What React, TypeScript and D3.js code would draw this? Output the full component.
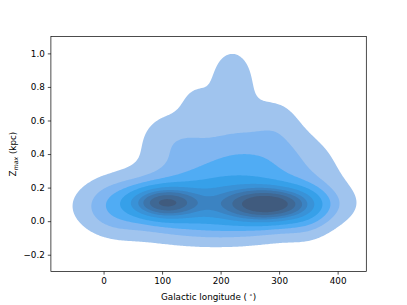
import * as d3 from "d3";
import { useEffect, useRef } from "react";

const W = 407;
const H = 305;
const margin = { top: 36.6, right: 40.7, bottom: 33.5, left: 50.9 };

const lonDomain: [number, number] = [-90, 449];
const zDomain: [number, number] = [-0.3, 1.1];
const xTicks = [0, 100, 200, 300, 400];
const yTicks = [-0.2, 0.0, 0.2, 0.4, 0.6, 0.8, 1.0];

// density blobs (peak, longitude, Zmax, spread lon, spread Zmax)
const blobPeak = [1.0, 1.25, 0.45, 0.2, 0.075, 0.06, 0.1, 0.09, 0.045, 0.08, 0.045];
const blobLon = [105, 282, 195, 240, 220, 115, 20, 345, 155, 180, 295];
const blobZ = [0.11, 0.1, 0.1, 0.33, 0.83, 0.5, 0.08, 0.07, 0.7, 0.08, 0.6];
const blobSLon = [35, 45, 95, 85, 32, 38, 35, 26, 20, 140, 30];
const blobSZ = [0.055, 0.06, 0.1, 0.16, 0.17, 0.12, 0.1, 0.1, 0.1, 0.16, 0.12];

// seaborn style iso-proportion levels
const isoProps = [0.05, 0.156, 0.261, 0.367, 0.472, 0.578, 0.683, 0.789, 0.894, 1.0];
const bandColors = [
  "#a0c4ee", "#80b6f1", "#50acf4", "#36a0e9", "#3992d7",
  "#3b83c2", "#3d75ab", "#3f6894", "#405b7e",
];

export default function App() {
  const ref = useRef<SVGSVGElement>(null);

  useEffect(() => {
    if (!ref.current) return;
    document.body.style.margin = "0";
    const width = W - margin.left - margin.right;
    const height = H - margin.top - margin.bottom;

    const svg = d3.select(ref.current);
    svg.selectAll("*").remove();

    const x = d3.scaleLinear().domain(lonDomain).range([0, width]);
    const y = d3.scaleLinear().domain(zDomain).range([height, 0]);

    // density grid
    const step = 1.5;
    const nx = Math.ceil(width / step);
    const ny = Math.ceil(height / step);
    const values = new Float64Array(nx * ny);
    for (let j = 0; j < ny; j++) {
      const z = y.invert((j + 0.5) * step);
      for (let i = 0; i < nx; i++) {
        const lon = x.invert((i + 0.5) * step);
        let v = 0;
        for (let k = 0; k < blobPeak.length; k++) {
          const dl = (lon - blobLon[k]) / blobSLon[k];
          const dz = (z - blobZ[k]) / blobSZ[k];
          v += blobPeak[k] * Math.exp(-0.5 * (dl * dl + dz * dz));
        }
        values[j * nx + i] = v;
      }
    }

    const sorted = Array.from(values).sort((a, b) => b - a);
    const total = d3.sum(sorted);
    const cum: number[] = [];
    let acc = 0;
    for (const v of sorted) { acc += v; cum.push(acc / total); }
    const levels = isoProps.map(q => {
      const idx = d3.bisectLeft(cum, 1 - q);
      return sorted[Math.min(idx, sorted.length - 1)];
    });

    const contours = d3.contours()
      .size([nx, ny])
      .thresholds(levels.slice(0, bandColors.length))(Array.from(values));

    const g = svg.append("g").attr("transform", `translate(${margin.left},${margin.top})`);

    const path = d3.geoPath(d3.geoTransform({
      point(px: number, py: number) { (this as any).stream.point(px * step, py * step); },
    }));

    g.selectAll("path.band")
      .data(contours)
      .enter()
      .append("path")
      .attr("class", "band")
      .attr("d", d => path(d as any) as string)
      .attr("fill", (_d, i) => bandColors[i]);

    // X Axis
    const xAxis = g.append("g")
      .attr("transform", `translate(0,${height})`)
      .call(d3.axisBottom(x).tickValues(xTicks).tickSize(3.1).tickPadding(3).tickFormat(d3.format("d")));

    // Y Axis
    const yAxis = g.append("g")
      .call(d3.axisLeft(y).tickValues(yTicks).tickSize(3.1).tickPadding(3).tickFormat(d3.format(".1f")));

    [xAxis, yAxis].forEach(a => {
      a.select(".domain").remove();
      a.selectAll("line").attr("stroke", "#000").attr("stroke-width", 0.7);
      a.selectAll("text")
        .attr("fill", "#000")
        .style("font-family", "DejaVu Sans")
        .style("font-size", "8.8px");
    });

    // frame
    g.append("rect")
      .attr("width", width)
      .attr("height", height)
      .attr("fill", "none")
      .attr("stroke", "#000")
      .attr("stroke-width", 0.7);

    svg.append("text")
      .attr("x", margin.left + width / 2)
      .attr("y", 300)
      .attr("text-anchor", "middle")
      .style("font-family", "DejaVu Sans")
      .style("font-size", "8.8px")
      .html('Galactic longitude (<tspan dx="2" dy="-3.5" font-size="6">∘</tspan><tspan dy="3.5">)</tspan>');

    svg.append("text")
      .attr("transform", `translate(16,${margin.top + height / 2}) rotate(-90)`)
      .attr("text-anchor", "middle")
      .style("font-family", "DejaVu Sans")
      .style("font-size", "8.8px")
      .html('Z<tspan font-style="italic" font-size="6.2" dy="2">max</tspan><tspan dy="-2"> (kpc)</tspan>');
  }, []);

  return (
    <div style={{ width: W, height: H }}>
      <svg ref={ref} width={W} height={H} style={{ display: "block" }} />
    </div>
  );
}
